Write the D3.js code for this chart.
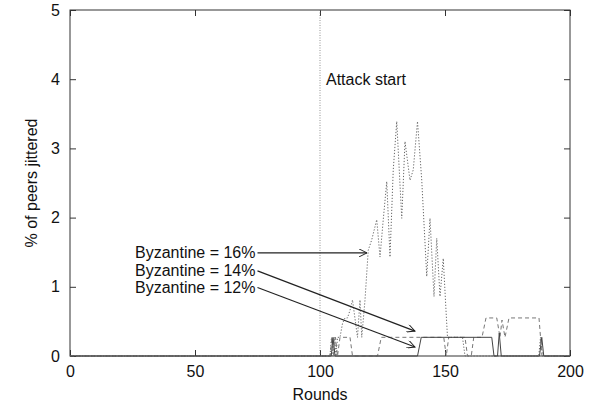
<!DOCTYPE html>
<html lang="en">
<head>
    <meta charset="UTF-8">
    <title>Peers jittered</title>
    <script src="https://d3js.org/d3.v7.min.js"></script>
    <style>
        body { margin: 0; background: white; }
        svg text {
            font-family: "Liberation Sans", Arial, sans-serif;
            font-size: 16px;
            fill: #111;
        }
    </style>
</head>
<body>
    <svg width="604" height="409"></svg>

    <script>
        // data (round, % of peers jittered)
        const xTicks = [0, 50, 100, 150, 200];
        const yTicks = [0, 1, 2, 3, 4, 5];
        const attackRound = 100;

        const rounds16 = [0, 104, 104.6, 105.2, 105.8, 106.4, 107, 108, 109, 110, 111, 112, 113, 115, 116, 116.7, 118, 119.3, 120.7, 122.7, 124, 125.3, 126.7, 128, 129.3, 130.7, 132.7, 134, 136, 137.3, 139, 140.7, 142.7, 144, 145.6, 146.7, 148, 149.3, 150.4, 151, 157, 158, 187.5, 188.2, 189, 200];
        const values16 = [0, 0, 0.27, 0, 0.27, 0, 0.27, 0.27, 0.47, 0.55, 0.55, 0.66, 0.81, 0.27, 0.81, 0.27, 0.81, 1.53, 1.68, 1.97, 1.43, 1.97, 2.52, 1.43, 2.69, 3.39, 1.99, 3.10, 2.54, 2.69, 3.39, 2.54, 1.15, 1.99, 0.86, 1.70, 0.86, 1.41, 0.66, 0.27, 0.27, 0, 0, 0.27, 0, 0];

        const rounds14 = [0, 104, 104.8, 105.5, 106.2, 107, 108, 112, 113, 123, 124.5, 149.5, 150.5, 151.5, 158, 159, 160.5, 161.5, 164.8, 166.4, 170.7, 172, 172.8, 174, 175.6, 187.6, 188.8, 200];
        const values14 = [0, 0, 0.27, 0, 0.27, 0, 0.27, 0.27, 0, 0, 0.27, 0.27, 0, 0.27, 0.27, 0, 0, 0.27, 0.27, 0.55, 0.55, 0.27, 0.52, 0.27, 0.55, 0.55, 0, 0];

        const rounds12 = [0, 104.5, 105.2, 106, 139, 140.5, 168.7, 169.6, 171, 171.7, 172.5, 187.8, 188.7, 189.5, 200];
        const values12 = [0, 0, 0.27, 0, 0, 0.27, 0.27, 0, 0, 0.33, 0, 0, 0.27, 0, 0];

        const labels = ["Byzantine = 16%", "Byzantine = 14%", "Byzantine = 12%"];
        // arrow start and end in data units
        const arrowFrom = [[75, 1.49], [75, 1.23], [75, 0.99]];
        const arrowTo = [[118.8, 1.49], [138, 0.36], [138, 0.13]];

        const width = 604, height = 409;
        const margin = { top: 10, right: 34, bottom: 53, left: 70 };

        const svg = d3.select("svg");

        const x = d3.scaleLinear().domain([0, 200]).range([margin.left, width - margin.right]);
        const y = d3.scaleLinear().domain([0, 5]).range([height - margin.bottom, margin.top]);

        svg.append("defs").append("marker")
            .attr("id", "arrow")
            .attr("viewBox", "0 0 10 10")
            .attr("refX", 10).attr("refY", 5)
            .attr("markerWidth", 12).attr("markerHeight", 8)
            .attr("markerUnits", "userSpaceOnUse")
            .attr("orient", "auto")
            .append("path")
            .attr("d", "M0,0 L10,5 L0,10")
            .attr("fill", "none")
            .attr("stroke", "#222")
            .attr("stroke-width", 1.2);

        // axes, ticks inward on all four sides
        const tickLen = 6;
        const axisColor = "#333";

        const gx = svg.append("g").attr("transform", `translate(0,${y(0)})`)
            .call(d3.axisBottom(x).tickValues(xTicks).tickSize(-tickLen).tickPadding(10).tickFormat(d3.format("d")));
        const gxTop = svg.append("g").attr("transform", `translate(0,${y(5)})`)
            .call(d3.axisTop(x).tickValues(xTicks).tickSize(-tickLen).tickFormat(""));
        const gy = svg.append("g").attr("transform", `translate(${x(0)},0)`)
            .call(d3.axisLeft(y).tickValues(yTicks).tickSize(-tickLen).tickPadding(10).tickFormat(d3.format("d")));
        const gyRight = svg.append("g").attr("transform", `translate(${x(200)},0)`)
            .call(d3.axisRight(y).tickValues(yTicks).tickSize(-tickLen).tickFormat(""));

        [gx, gxTop, gy, gyRight].forEach(g => {
            g.select(".domain").remove();
            g.selectAll(".tick line").attr("stroke", axisColor);
            g.selectAll("text").attr("font-size", 16).attr("font-family", null).attr("fill", "#111");
        });

        svg.append("rect")
            .attr("x", x(0)).attr("y", y(5))
            .attr("width", x(200) - x(0)).attr("height", y(0) - y(5))
            .attr("fill", "none")
            .attr("stroke", axisColor)
            .attr("stroke-width", 1);

        // attack start marker
        svg.append("line")
            .attr("x1", x(attackRound)).attr("x2", x(attackRound))
            .attr("y1", y(0)).attr("y2", y(5))
            .attr("stroke", "#777")
            .attr("stroke-width", 0.8)
            .attr("stroke-dasharray", "1,1.5");

        svg.append("text")
            .attr("x", x(attackRound) + 6)
            .attr("y", y(4) + 6)
            .text("Attack start");

        // series
        const line = d3.line().x(d => x(d[0])).y(d => y(d[1]));
        const series = [
            { r: rounds16, v: values16, dash: "1.2,1.8", color: "#666", w: 1 },
            { r: rounds14, v: values14, dash: "4,3", color: "#777", w: 1 },
            { r: rounds12, v: values12, dash: null, color: "#444", w: 1 }
        ];

        series.forEach(s => {
            svg.append("path")
                .datum(s.r.map((r, i) => [r, s.v[i]]))
                .attr("d", line)
                .attr("fill", "none")
                .attr("stroke", s.color)
                .attr("stroke-width", s.w)
                .attr("stroke-dasharray", s.dash);
        });

        // labels with arrows
        labels.forEach((t, i) => {
            svg.append("text")
                .attr("x", x(arrowFrom[i][0]) - 2)
                .attr("y", y(arrowFrom[i][1]))
                .attr("dy", "0.35em")
                .attr("text-anchor", "end")
                .text(t);
            svg.append("line")
                .attr("x1", x(arrowFrom[i][0])).attr("y1", y(arrowFrom[i][1]))
                .attr("x2", x(arrowTo[i][0])).attr("y2", y(arrowTo[i][1]))
                .attr("stroke", "#222")
                .attr("stroke-width", 1.2)
                .attr("marker-end", "url(#arrow)");
        });

        // axis titles
        svg.append("text")
            .attr("x", (x(0) + x(200)) / 2)
            .attr("y", 400)
            .attr("text-anchor", "middle")
            .text("Rounds");

        svg.append("text")
            .attr("transform", `translate(31,${(y(0) + y(5)) / 2}) rotate(-90)`)
            .attr("text-anchor", "middle")
            .attr("dy", "0.35em")
            .text("% of peers jittered");
    </script>
</body>
</html>
